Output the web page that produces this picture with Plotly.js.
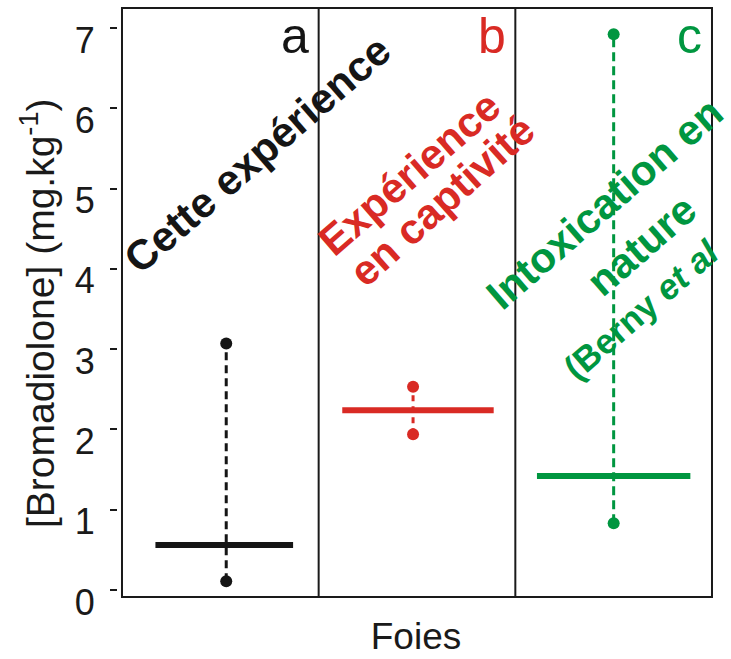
<!DOCTYPE html>
<html>
<head>
<meta charset="utf-8">
<script src="https://cdn.plot.ly/plotly-3.0.1.min.js"></script>
<style>html,body{margin:0;padding:0;background:#fff}#chart{width:731px;height:659px}</style>
</head>
<body>
<div id="chart"></div>
<script>
// ---- data ----
const groups = ['Cette expérience', 'Expérience en captivité', 'Intoxication en nature'];
const groupLetters = ['a', 'b', 'c'];
const medians = [0.56, 2.24, 1.42];
const mins = [0.11, 1.94, 0.83];
const maxs = [3.07, 2.53, 6.92];
const yTickVals = [0, 1, 2, 3, 4, 5, 6, 7];
const yTickText = ['0', '1', '2', '3', '4', '5', '6', '7'];
const yTitle = '[Bromadiolone] (mg.kg<sup>-1</sup>)';
const xTitle = 'Foies';

// ---- styles / layout helpers ----
const colors = ['#151515', '#d92a24', '#009640'];
const medianSpan = [[0.17, 0.87], [0.12, 0.89], [0.11, 0.89]]; // offsets inside panel
const whiskerPos = [0.53, 0.48, 0.50];
const dashes = ['8px,5px', '6px,5px', '9px,5px'];

const traces = [];
groups.forEach((g, i) => {
  traces.push({
    type: 'scatter', mode: 'lines+markers', name: g,
    x: [i + whiskerPos[i], i + whiskerPos[i]],
    y: [mins[i], maxs[i]],
    line: {color: colors[i], width: 3, dash: dashes[i]},
    marker: {color: colors[i], size: 12},
    showlegend: false, hoverinfo: 'skip'
  });
  traces.push({
    type: 'scatter', mode: 'lines', name: g + ' médiane',
    x: [i + medianSpan[i][0], i + medianSpan[i][1]],
    y: [medians[i], medians[i]],
    line: {color: colors[i], width: 6},
    showlegend: false, hoverinfo: 'skip'
  });
});

const F = 'Liberation Sans, Arial, sans-serif';
const frame = '#1a1a1a';
const yBot = -0.087, yTop = 7.248;
const shapes = [
  {type: 'rect', xref: 'x', yref: 'y', x0: 0, x1: 3, y0: yBot, y1: yTop, line: {color: frame, width: 2}},
  {type: 'line', xref: 'x', yref: 'y', x0: 1, x1: 1, y0: yBot, y1: yTop, line: {color: frame, width: 2}},
  {type: 'line', xref: 'x', yref: 'y', x0: 2, x1: 2, y0: yBot, y1: yTop, line: {color: frame, width: 2}}
];

// pixel -> data helpers for annotation placement
const px2x = p => (p - 122) / 196.67;
const px2y = p => (590 - p) / 80.3;

const ann = (text, px, py, color, size, angle, extra) => Object.assign({
  text: text, x: px2x(px), y: px2y(py), xref: 'x', yref: 'y', showarrow: false,
  textangle: angle, font: {family: F, size: size, color: color},
  xanchor: 'center', yanchor: 'middle'
}, extra || {});

const annotations = [
  ann(groupLetters[0], 311, 36, colors[0], 50, 0, {xanchor: 'right'}),
  ann(groupLetters[1], 508, 36, colors[1], 50, 0, {xanchor: 'right'}),
  ann(groupLetters[2], 704, 36, colors[2], 50, 0, {xanchor: 'right'}),
  ann('<b>Cette expérience</b>', 257, 154, colors[0], 42, -41),
  ann('<b>Expérience</b>', 409, 173, colors[1], 42, -41),
  ann('<b>en captivité</b>', 442, 200, colors[1], 42, -42),
  ann('<b>Intoxication en</b>', 604, 203, colors[2], 42, -41),
  ann('<b>nature</b>', 641, 245, colors[2], 42, -41),
  ann('<b>(Berny <i>et al</i></b>', 641, 309, colors[2], 35, -41),
  // y axis title, placed as a rotated annotation
  {text: yTitle, xref: 'paper', yref: 'paper', x: (37 - 118) / 596, y: (600 - 313) / 594,
   showarrow: false, textangle: -90, xanchor: 'center', yanchor: 'middle',
   font: {family: F, size: 39, color: '#1a1a1a'}}
];

const layout = {
  width: 731, height: 659,
  margin: {l: 118, r: 17, t: 6, b: 59, pad: 0},
  paper_bgcolor: '#fff', plot_bgcolor: '#fff',
  font: {family: F, color: '#1a1a1a'},
  showlegend: false,
  xaxis: {
    range: [-0.0203, 3.0102], showgrid: false, zeroline: false, showline: false,
    showticklabels: false, ticks: '', fixedrange: true,
    title: {text: xTitle, font: {family: F, size: 37, color: '#1a1a1a'}, standoff: 23}
  },
  yaxis: {
    range: [-0.1245, 7.273], showgrid: false, zeroline: false, showline: false,
    tickmode: 'array', tickvals: yTickVals, ticktext: yTickText,
    ticks: 'outside', ticklen: 7, tickwidth: 2, tickcolor: '#1a1a1a',
    tickfont: {family: F, size: 36, color: '#1a1a1a'},
    ticklabelshift: 12, ticklabelstandoff: 8,
    fixedrange: true
  },
  shapes: shapes,
  annotations: annotations
};

Plotly.newPlot('chart', traces, layout, {displayModeBar: false, staticPlot: true});
</script>
</body>
</html>
